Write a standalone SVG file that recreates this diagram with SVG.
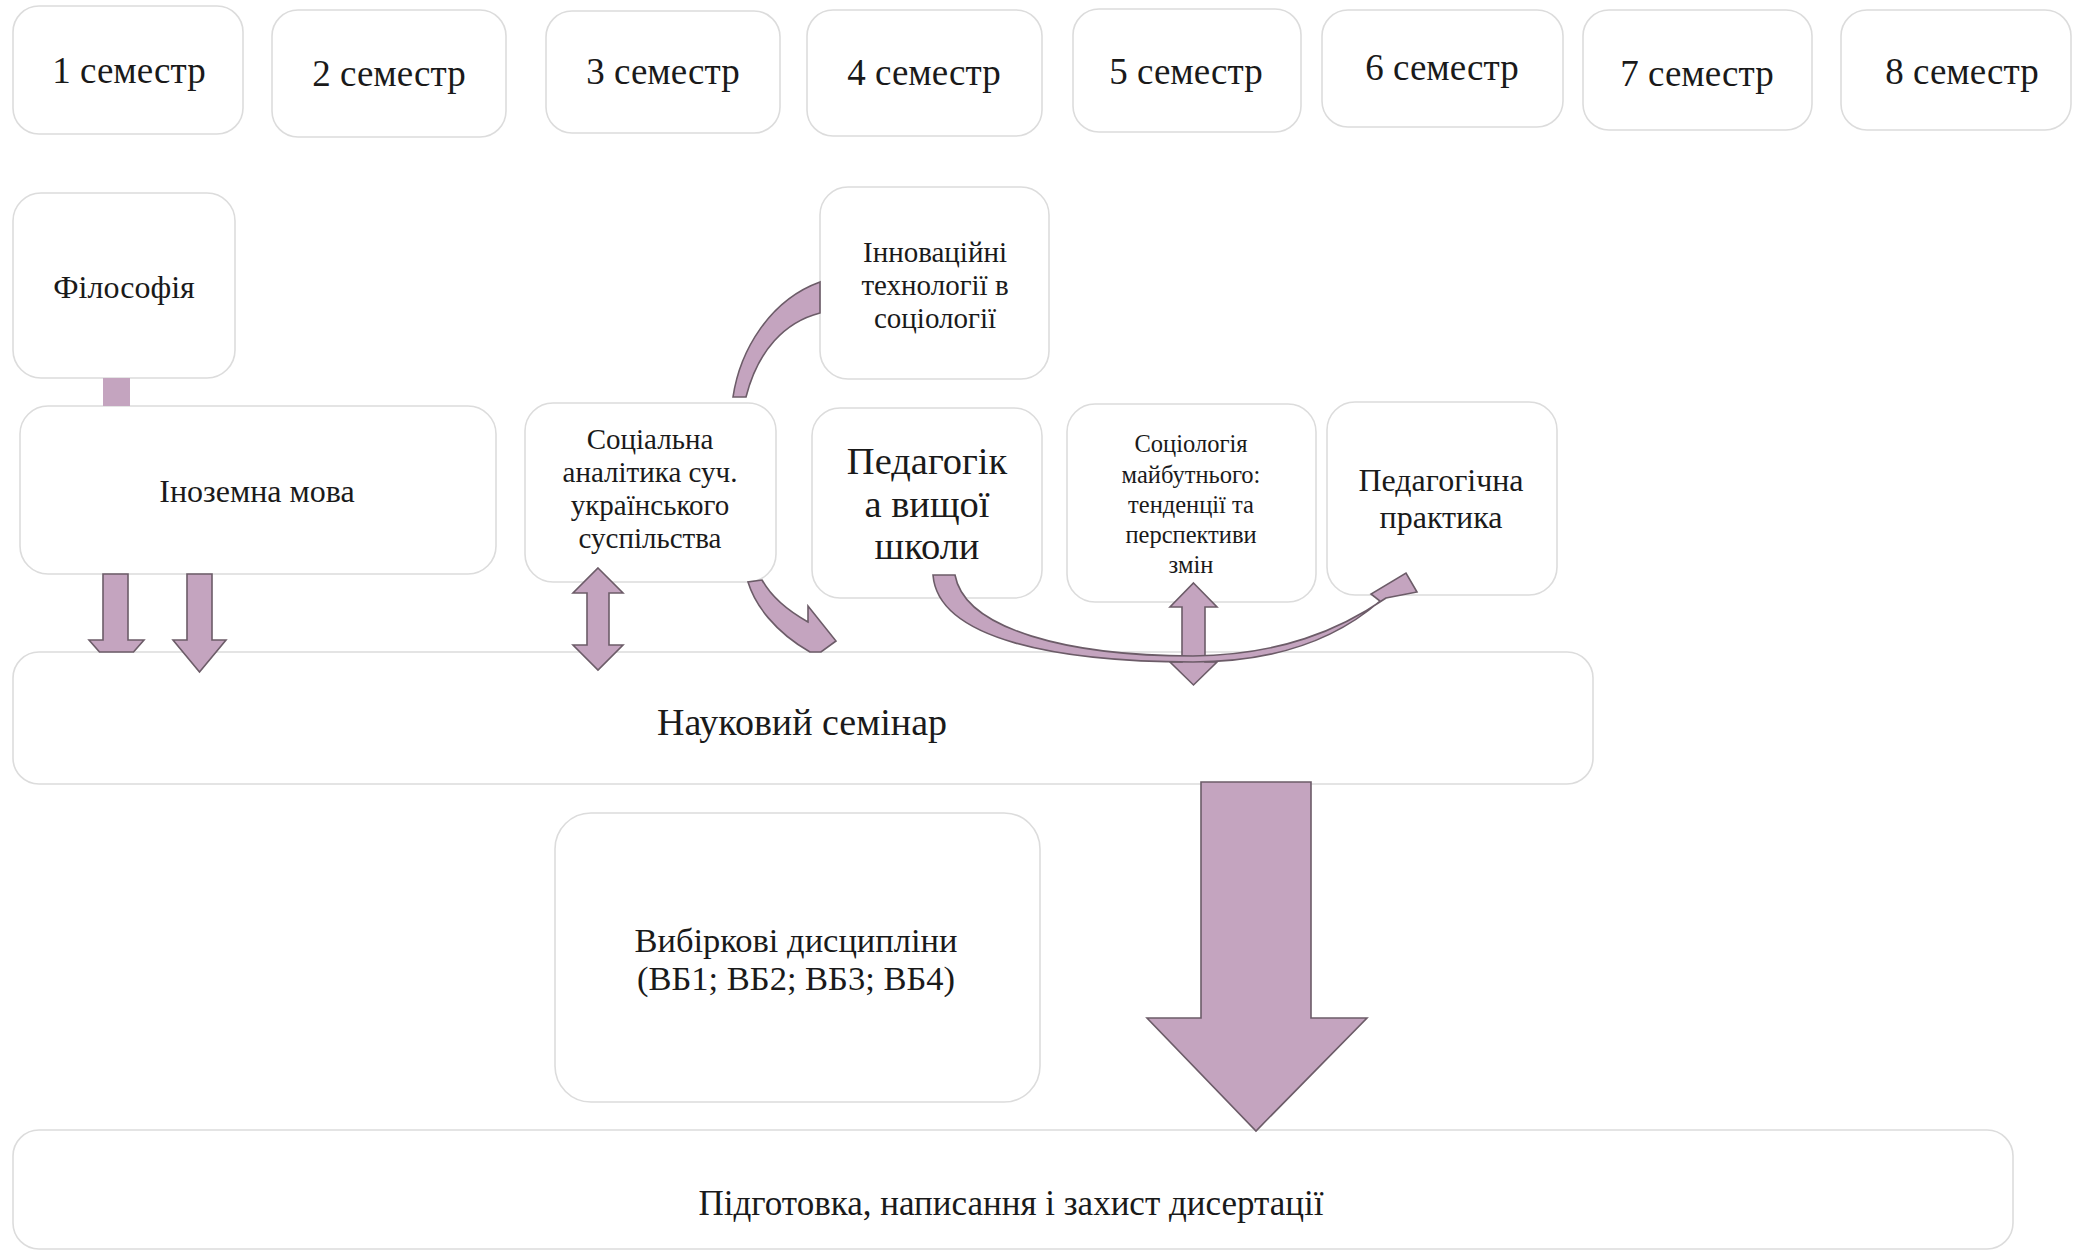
<svg xmlns="http://www.w3.org/2000/svg" width="2073" height="1259" viewBox="0 0 2073 1259">
<style>
.box{fill:#ffffff;stroke:#dcdcdc;stroke-width:1.6}
.t{font-family:"Liberation Serif","Times New Roman",serif;fill:#1a1a1a;text-anchor:middle}
.sem{font-size:37px}
.arr{fill:#c4a4bf;stroke:#6c5c68;stroke-width:1.6;stroke-linejoin:miter}
</style>
<rect width="2073" height="1259" fill="#ffffff"/>
<g id="nodes">
<g id="sem1"><rect class="box" x="13" y="6" width="230" height="128" rx="26"/><text class="t sem" x="129" y="83">1 семестр</text></g>
<g id="sem2"><rect class="box" x="272" y="10" width="234" height="127" rx="26"/><text class="t sem" x="389" y="86">2 семестр</text></g>
<g id="sem3"><rect class="box" x="546" y="11" width="234" height="122" rx="26"/><text class="t sem" x="663" y="84">3 семестр</text></g>
<g id="sem4"><rect class="box" x="807" y="10" width="235" height="126" rx="26"/><text class="t sem" x="924" y="85">4 семестр</text></g>
<g id="sem5"><rect class="box" x="1073" y="9" width="228" height="123" rx="26"/><text class="t sem" x="1186" y="84">5 семестр</text></g>
<g id="sem6"><rect class="box" x="1322" y="10" width="241" height="117" rx="26"/><text class="t sem" x="1442" y="80">6 семестр</text></g>
<g id="sem7"><rect class="box" x="1583" y="10" width="229" height="120" rx="26"/><text class="t sem" x="1697" y="86">7 семестр</text></g>
<g id="sem8"><rect class="box" x="1841" y="10" width="230" height="120" rx="26"/><text class="t sem" x="1962" y="84">8 семестр</text></g>

<g id="philosophy"><rect class="box" x="13" y="193" width="222" height="185" rx="28"/><text class="t" font-size="32" x="124" y="298">Філософія</text></g>
<g id="foreign-lang"><rect class="box" x="20" y="406" width="476" height="168" rx="28"/><text class="t" font-size="32" x="257" y="502">Іноземна мова</text></g>
<g id="social-analytics"><rect class="box" x="525" y="403" width="251" height="179" rx="28"/>
<text class="t" font-size="29" x="650"><tspan x="650" y="449">Соціальна</tspan><tspan x="650" y="482">аналітика суч.</tspan><tspan x="650" y="515">українського</tspan><tspan x="650" y="548">суспільства</tspan></text></g>
<g id="innovations"><rect class="box" x="820" y="187" width="229" height="192" rx="28"/>
<text class="t" font-size="29" x="935"><tspan x="935" y="262">Інноваційні</tspan><tspan x="935" y="295">технології в</tspan><tspan x="935" y="328">соціології</tspan></text></g>
<g id="pedagogy"><rect class="box" x="812" y="408" width="230" height="190" rx="28"/>
<text class="t" font-size="38.5" x="927"><tspan x="927" y="474">Педагогік</tspan><tspan x="927" y="517">а вищої</tspan><tspan x="927" y="559">школи</tspan></text></g>
<g id="future-sociology"><rect class="box" x="1067" y="404" width="249" height="198" rx="28"/>
<text class="t" font-size="24.5" x="1191"><tspan x="1191" y="452">Соціологія</tspan><tspan x="1191" y="483">майбутнього:</tspan><tspan x="1191" y="513">тенденції та</tspan><tspan x="1191" y="543">перспективи</tspan><tspan x="1191" y="573">змін</tspan></text></g>
<g id="ped-practice"><rect class="box" x="1327" y="402" width="230" height="193" rx="28"/>
<text class="t" font-size="32" x="1441"><tspan x="1441" y="491">Педагогічна</tspan><tspan x="1441" y="528">практика</tspan></text></g>
<g id="seminar"><rect class="box" x="13" y="652" width="1580" height="132" rx="26"/><text class="t" font-size="38" x="802" y="735">Науковий семінар</text></g>
<g id="electives"><rect class="box" x="555" y="813" width="485" height="289" rx="36"/>
<text class="t" font-size="34.5" x="796"><tspan x="796" y="952">Вибіркові дисципліни</tspan><tspan x="796" y="990">(ВБ1; ВБ2; ВБ3; ВБ4)</tspan></text></g>
<g id="dissertation"><rect class="box" x="13" y="1130" width="2000" height="119" rx="26"/><text class="t" font-size="35" x="1011" y="1215">Підготовка, написання і захист дисертації</text></g>
</g>
<g id="connectors">
<rect x="103" y="378" width="27" height="28" fill="#c4a4bf"/>
<polygon class="arr" points="103,574 128,574 128,640 144,640 133.5,652 99.5,652 89,640 103,640"/>
<polygon class="arr" points="187,574 212,574 212,640 226,640 199.5,672 173,640 187,640"/>
<polygon class="arr" points="598,568 623,593 609,593 609,645 623,645 598,670 573,645 587,645 587,593 573,593"/>
<polygon class="arr" points="1193.5,583 1217,607 1205,607 1205,662 1217,662 1193.5,685 1170,662 1182,662 1182,607 1170,607"/>
<polygon class="arr" points="1201,782 1311,782 1311,1018 1367,1018 1256,1131 1147,1018 1201,1018"/>
<path class="arr" d="M733,397 C740,350 770,300 820,282 L820,313 C785,322 758,350 746,397 Z"/>
<path class="arr" d="M748,582 C755,605 775,632 810,652 L821,652 L836,641 L808,606 L808,622 C790,612 772,598 762,580 Z"/>
<path class="arr" d="M933,575 C938,640 1060,662 1193,662 C1280,662 1340,636 1380,601 L1371,594 L1406,573 L1417,592 L1386,598 C1340,630 1280,655 1193,656 C1070,656 965,630 955,575 Z"/>
</g>
</svg>
